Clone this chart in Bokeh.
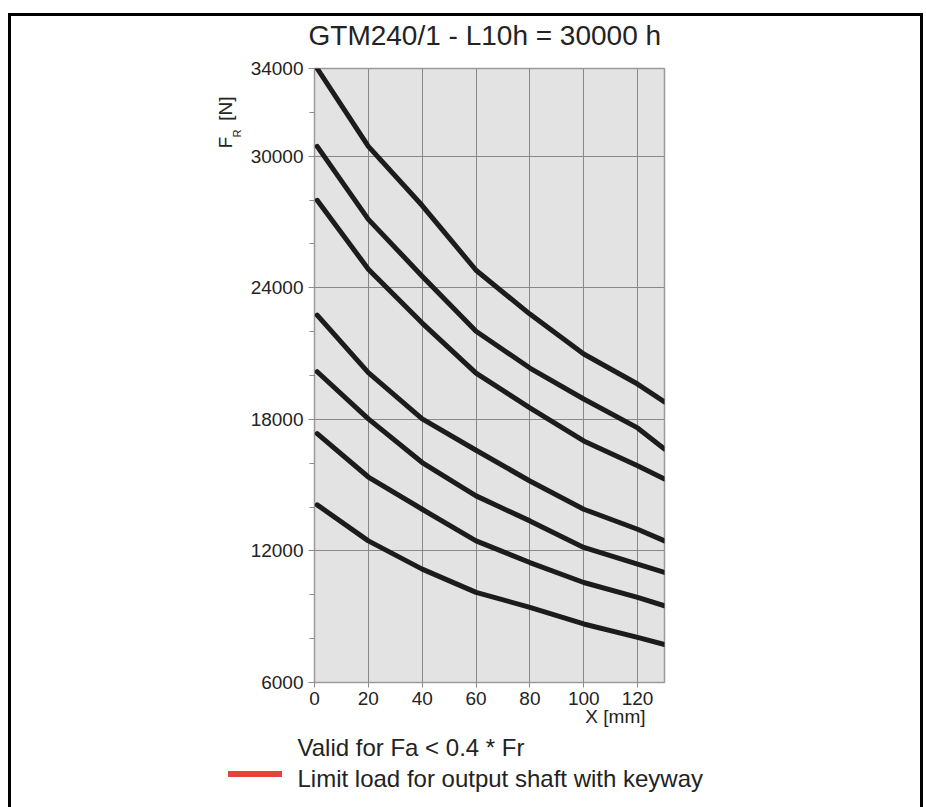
import math
from bokeh.plotting import figure
from bokeh.models import Range1d, FixedTicker, Title
from bokeh.embed import file_html
from bokeh.resources import INLINE

# ---- data ----
x_mm = [1, 20, 40, 60, 80, 100, 120, 130]
curve_1 = [34000, 30450, 27750, 24800, 22800, 20980, 19610, 18800]
curve_2 = [30450, 27120, 24530, 22020, 20340, 18930, 17610, 16650]
curve_3 = [27990, 24850, 22390, 20110, 18520, 17015, 15880, 15280]
curve_4 = [22750, 20130, 18020, 16590, 15190, 13900, 12990, 12460]
curve_5 = [20170, 18020, 16030, 14510, 13370, 12160, 11400, 11020]
curve_6 = [17350, 15370, 13900, 12460, 11470, 10560, 9880, 9500]
curve_7 = [14100, 12460, 11170, 10110, 9430, 8670, 8060, 7730]
all_curves = [curve_1, curve_2, curve_3, curve_4, curve_5, curve_6, curve_7]

x_ticks = [0, 20, 40, 60, 80, 100, 120]
y_ticks = [6000, 12000, 18000, 24000, 30000, 34000]
y_minor_ticks = [8000, 10000, 14000, 16000, 20000, 22000, 26000, 28000, 32000]

title_text = "GTM240/1 - L10h = 30000 h"
note_text = "Valid for Fa < 0.4 * Fr"
limit_text = "Limit load for output shaft with keyway"
y_label_main = "F\u00a0\u00a0\u00a0[N]"
y_label_sub = "R"
x_label = "X [mm]"

FONT = "Liberation Sans"
TXT = "#232323"

W, H = 926, 807
FL, FR, FT, FB = 314, 664, 67, 682

# page decoration: outer black frame and red legend swatch (CSS layers)
bg = ("linear-gradient(#e8433b,#e8433b) 228px 771px / 54px 6px no-repeat, "
      "linear-gradient(#000,#000) 8px 12.5px / 3px 900px no-repeat, "
      "linear-gradient(#000,#000) 920.3px 12.5px / 3px 900px no-repeat, "
      "linear-gradient(#000,#000) 8px 12.5px / 915.3px 3px no-repeat, white")

p = figure(width=W, height=H, output_backend="svg", toolbar_location=None,
           x_range=Range1d(0, 130), y_range=Range1d(6000, 34000),
           min_border_left=FL, min_border_right=W - FR,
           min_border_top=FT, min_border_bottom=H - FB,
           styles={"background": bg})
p.background_fill_color = "#e3e3e3"
p.border_fill_color = None
p.outline_line_color = "#9a9a9a"
p.outline_line_width = 1.5

for c in all_curves:
    p.line(x_mm, c, line_color="#1c1c1c", line_width=5,
           line_cap="round", line_join="round")

# axes
xa = p.xaxis[0]
xa.ticker = FixedTicker(ticks=x_ticks)
xa.axis_line_color = None
xa.major_tick_out = 5
xa.major_tick_in = 0
xa.major_tick_line_color = "#8c8c8c"
xa.minor_tick_line_color = None
xa.major_label_standoff = 4
xa.major_label_text_font = FONT
xa.major_label_text_font_size = "19px"
xa.major_label_text_color = TXT

ya = p.yaxis[0]
ya.ticker = FixedTicker(ticks=y_ticks, minor_ticks=y_minor_ticks)
ya.axis_line_color = None
ya.major_tick_out = 6
ya.major_tick_in = 0
ya.minor_tick_out = 5
ya.minor_tick_in = 0
ya.major_tick_line_color = "#8c8c8c"
ya.minor_tick_line_color = "#8c8c8c"
ya.major_label_standoff = 5
ya.major_label_text_font = FONT
ya.major_label_text_font_size = "19px"
ya.major_label_text_color = TXT

p.xgrid.grid_line_color = "#888888"
p.ygrid.grid_line_color = "#888888"
p.xgrid.grid_line_width = 1
p.ygrid.grid_line_width = 1

# main title
p.title.text = title_text
p.title.align = "left"
p.title.text_font = FONT
p.title.text_font_size = "28px"
p.title.text_font_style = "normal"
p.title.text_color = TXT
p.title.standoff = 35
p.title.offset = -6


def side_title(place, text, size, align, offset, standoff):
    t = Title(text=text, align=align, offset=offset, standoff=standoff,
              text_font=FONT, text_font_size=f"{size}px",
              text_font_style="normal", text_color=TXT)
    p.add_layout(t, place)


# y-axis label F_R [N]
side_title("left", y_label_sub, 11, "right", 61, 10)
side_title("left", y_label_main, 19, "right", 28, -24)
# x-axis label and notes
side_title("below", x_label, 19, "right", 19, -8)
side_title("below", note_text, 24, "left", -17, 19)
side_title("below", limit_text, 24, "left", -17, -16)

open("out.html", "w").write(file_html(p, INLINE))
